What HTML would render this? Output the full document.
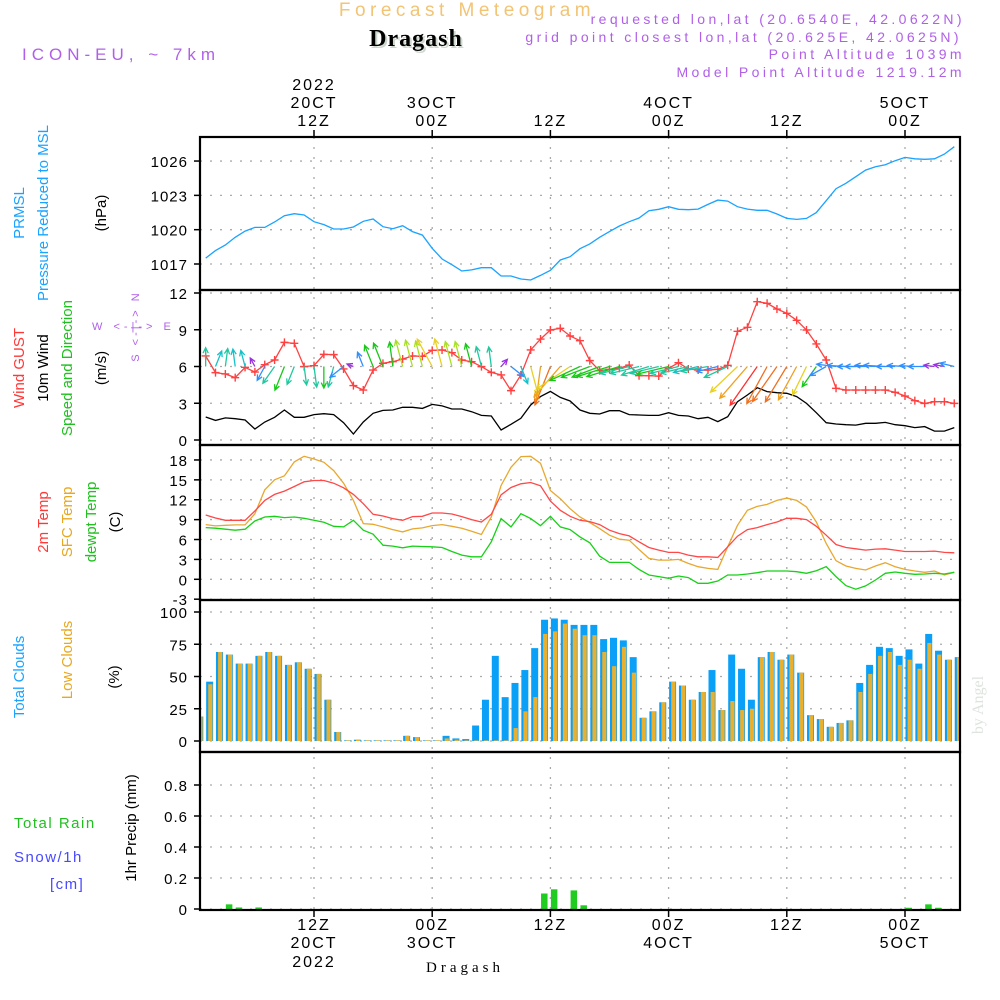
<!DOCTYPE html>
<html><head><meta charset="utf-8"><style>
html,body{margin:0;padding:0;background:#fff;}
svg{display:block;font-family:"Liberation Sans",sans-serif;}
</style></head><body>
<svg id="chart" width="1000" height="1000" viewBox="0 0 1000 1000" xmlns="http://www.w3.org/2000/svg">
<text x="467" y="16" text-anchor="middle" font-size="19" fill="#f2c474" letter-spacing="4.5">Forecast Meteogram</text>
<text x="418" y="48" text-anchor="middle" font-size="24" font-weight="bold" font-family="Liberation Serif,serif" fill="#cfd8cf" letter-spacing="1">Dragash</text>
<text x="416" y="46" text-anchor="middle" font-size="24" font-weight="bold" font-family="Liberation Serif,serif" fill="#000" letter-spacing="1">Dragash</text>
<text x="22" y="60" font-size="17" fill="#b060e8" letter-spacing="5">ICON-EU, ~ 7km</text>
<g font-size="14" fill="#b060e8" text-anchor="end" letter-spacing="3.4">
<text x="965" y="24">requested lon,lat (20.6540E, 42.0622N)</text>
<text x="962" y="42">grid point closest lon,lat (20.625E, 42.0625N)</text>
<text x="965" y="59">Point Altitude 1039m</text>
<text x="965" y="77">Model Point Altitude 1219.12m</text>
</g>
<g id="grid"></g>
<g id="marks"></g>
<g id="frames"></g>
<g id="labels" font-size="15"></g>
<g font-size="15">
<text transform="translate(24,213) rotate(-90)" text-anchor="middle" fill="#1aa3ff">PRMSL</text>
<text transform="translate(48,213) rotate(-90)" text-anchor="middle" fill="#1aa3ff">Pressure Reduced to MSL</text>
<text transform="translate(106,213) rotate(-90)" text-anchor="middle" fill="#000">(hPa)</text>
<text transform="translate(24,368) rotate(-90)" text-anchor="middle" fill="#ff3838">Wind GUST</text>
<text transform="translate(48,368) rotate(-90)" text-anchor="middle" fill="#000">10m Wind</text>
<text transform="translate(72,368) rotate(-90)" text-anchor="middle" fill="#20c020">Speed and Direction</text>
<text transform="translate(106,368) rotate(-90)" text-anchor="middle" fill="#000">(m/s)</text>
<text x="92" y="330" font-size="11" fill="#b060e8" letter-spacing="4">W &lt;-|-&gt; E</text>
<text transform="translate(139,326) rotate(-90)" text-anchor="middle" font-size="11" fill="#b060e8" letter-spacing="3">S &lt;-|-&gt; N</text>
<text transform="translate(48,522) rotate(-90)" text-anchor="middle" fill="#ff3838">2m Temp</text>
<text transform="translate(72,522) rotate(-90)" text-anchor="middle" fill="#e8a820">SFC Temp</text>
<text transform="translate(96,522) rotate(-90)" text-anchor="middle" fill="#20c020">dewpt Temp</text>
<text transform="translate(120,522) rotate(-90)" text-anchor="middle" fill="#000">(C)</text>
<text transform="translate(24,677) rotate(-90)" text-anchor="middle" fill="#1aa3ff">Total Clouds</text>
<text transform="translate(72,660) rotate(-90)" text-anchor="middle" fill="#e8a820">Low Clouds</text>
<text transform="translate(119,677) rotate(-90)" text-anchor="middle" fill="#000">(%)</text>
<text x="14" y="828" fill="#20c020" letter-spacing="1.5">Total  Rain</text>
<text x="14" y="862" fill="#4848ff" letter-spacing="1.5">Snow/1h</text>
<text x="50" y="889" fill="#4848ff" letter-spacing="1.5">[cm]</text>
<text transform="translate(136,828) rotate(-90)" text-anchor="middle" fill="#000">1hr Precip (mm)</text>
</g>
<text x="465" y="972" text-anchor="middle" font-size="15" font-family="Liberation Serif,serif" letter-spacing="4">Dragash</text>
<text transform="translate(983,705) rotate(-90)" text-anchor="middle" font-size="16" font-family="Liberation Serif,serif" fill="#dde3dd">by Angel</text>
</svg>
<script>
const pressure=[1017.52,1018.17,1018.66,1019.33,1019.88,1020.2,1020.2,1020.67,1021.22,1021.4,1021.28,1020.7,1020.44,1020.06,1020.06,1020.23,1020.73,1020.93,1020.26,1020.09,1020.35,1019.83,1019.53,1018.37,1017.44,1016.94,1016.39,1016.48,1016.68,1016.68,1015.95,1015.95,1015.69,1015.6,1016,1016.45,1017.35,1017.64,1018.34,1018.76,
1019.33,1019.83,1020.32,1020.7,1021.02,1021.66,1021.78,1022.01,1021.78,1021.75,1021.8,1022.21,1022.59,1022.5,1022.01,1021.8,1021.69,1021.69,1021.37,1020.99,1020.9,1020.99,1021.49,1022.53,1023.58,1024.05,1024.63,1025.21,1025.5,1025.68,1026.03,1026.32,1026.2,1026.15,1026.2,1026.61,1027.25];
const gust=[6.86,5.5,5.39,5.09,5.93,5.55,6.15,6.53,7.97,7.89,5.99,6.07,6.99,6.97,5.8,4.44,4.08,5.71,6.26,6.39,6.61,6.86,6.83,7.32,7.35,7.13,6.53,6.39,5.99,5.52,5.31,4.03,5.31,7.35,8.24,8.98,9.12,8.49,8.11,6.48,
5.66,5.77,5.85,6.12,5.25,5.25,5.22,5.85,6.31,5.8,5.71,5.71,5.77,6.1,8.87,9.2,11.29,11.16,10.69,10.34,9.77,8.98,7.84,6.53,4.22,4.08,4.08,4.08,4.08,4.08,3.89,3.59,3.21,2.99,3.13,3.13,2.99];
const wind10=[1.88,1.6,1.8,1.74,1.63,0.9,1.47,1.85,2.45,1.85,1.85,2.07,2.15,2.07,1.41,0.49,1.47,2.18,2.42,2.45,2.67,2.67,2.58,2.91,2.78,2.53,2.53,2.31,2.01,1.96,0.82,1.28,1.77,2.86,3.54,3.97,3.48,3.18,2.45,2.18,
2.12,2.39,2.39,2.07,2.04,2.01,2.01,2.23,2.01,1.96,1.74,1.85,1.5,1.9,3.13,3.67,4.27,3.95,3.86,3.81,3.54,2.99,2.23,1.41,1.31,1.25,1.22,1.36,1.36,1.44,1.25,1.17,1.01,1.09,0.73,0.73,1.01];
const windDir=[0,15,5,355,350,340,200,205,195,195,175,175,180,190,220,300,345,345,345,355,350,350,350,340,350,350,350,350,350,355,30,140,165,170,185,195,210,225,235,240,
240,245,245,250,250,245,250,250,250,250,250,255,250,235,215,210,205,200,205,202,200,198,205,230,280,275,270,270,275,275,270,275,275,270,280,285,290];
const temp2m=[9.7,9.25,8.9,8.9,8.9,10.3,11.9,12.8,13.3,14,14.7,14.9,14.9,14.5,13.8,12.8,11.4,9.8,9.55,9.15,8.9,9.45,9.5,10,10,9.85,9.45,9,8.65,9.8,12.75,13.85,14.4,14.6,14.1,11.8,10.4,9.5,8.9,8.7,
8.25,7.4,6.9,6.55,5.65,4.8,4.4,4.05,4.05,3.65,3.4,3.4,3.3,4.9,6.5,7.5,7.8,8.25,8.65,9.2,9.2,9,8,6.65,5.25,4.8,4.6,4.4,4.55,4.6,4.4,4.2,4.2,4.2,4.25,4.05,4.0];
const tempSfc=[8.25,8.05,8.15,8.2,8.2,9.9,13.5,15,15.6,17.7,18.55,18.15,17.65,16.4,14.5,11.9,8.4,8.3,7.9,7.5,7.15,7.6,7.75,8.1,8.25,8,7.7,7.25,6.75,9.4,14.15,16.9,18.5,18.55,17.5,13.4,12.15,10.65,9.4,8.55,
7.65,6.65,6.05,5.9,4.5,3.15,2.9,2.9,3,2.4,1.9,1.65,1.5,4.9,8.15,10.4,11,11.3,11.9,12.25,11.9,10.9,8.65,5.4,2.8,2,1.65,1.4,2,2.5,1.9,1.5,1.25,1.05,1.25,0.65,1.05];
const dewpt=[7.8,7.7,7.55,7.4,7.55,8.8,9.4,9.5,9.3,9.4,9.2,8.9,8.6,8,7.9,8.9,7.4,6.8,5.15,5,4.75,5,4.95,4.9,4.8,4.2,3.65,3.4,3.4,5.65,9.15,7.9,9.9,9.15,8.1,9.5,7.9,7.5,6.4,5.5,
3.5,2.55,2.55,2.55,1.5,0.65,0.4,0.15,0.5,0.25,-0.6,-0.6,-0.25,0.65,0.65,0.8,1,1.25,1.25,1.25,1.15,0.9,1.3,1.9,0.4,-0.95,-1.5,-1,-0.1,0.9,1.1,0.9,0.75,0.8,0.9,0.8,1.05];
const totalClouds=[19,46,69,67,60,60,66,69,66,59,61,56,52,32,7,0.5,1,0.5,0.5,0.5,0.5,4,3,0.5,0.5,4,2,1.5,12,32,66,34,45,55,72,94,95,94,90,90,
90,79,80,78,65,18,23,30,46,43,32,38,55,24,67,56,32,65,69,63,67,53,20,17,11,14,16,45,59,73,72,66,71,60,83,70,63,65];
const lowClouds=[19,44,69,67,60,60,66,69,66,59,61,56,52,32,7,0.5,1,0.5,0.5,0.5,0.5,4,3,0.5,0.5,2,1,0.5,0.5,0.5,0.5,0.5,10,23,34,83,85,91,87,82,
82,69,58,73,53,18,23,30,46,43,32,38,38,24,31,24,25,65,69,63,67,53,20,17,11,14,16,38,52,66,69,59,63,56,76,67,63,65];
const precip=[0,0,0,0.03,0.01,0,0.01,0,0,0,0,0,0,0,0,0,0,0,0,0,0,0,0,0,0,0,0,0,0,0,0,0,0,0,0,0.10,0.127,0,0.12,0.024,
0,0,0,0,0,0,0,0,0,0,0,0,0,0,0,0,0,0,0,0,0,0,0,0,0,0,0,0,0,0,0,0,0.008,0,0.03,0.008,0,0];
const presTicks=[1017,1020,1023,1026];
const windTicks=[0,3,6,9,12];
const tempTicks=[-3,0,3,6,9,12,15,18];
const cloudTicks=[0,25,50,75,100];
const precipTicks=[0,0.2,0.4,0.6,0.8];
const timeTicksH=[12,24,36,48,60,72];
const topLabels=[["2022","20CT","12Z"],["","3OCT","00Z"],["","","12Z"],["","4OCT","00Z"],["","","12Z"],["","5OCT","00Z"]];
const botLabels=[["12Z","20CT","2022"],["00Z","3OCT",""],["12Z","",""],["00Z","4OCT",""],["12Z","",""],["00Z","5OCT",""]];

const NS="http://www.w3.org/2000/svg";
const X0=200,X1=960;
const xH=h=>195.8+9.85*h;
const yP=v=>264-(v-1017)*11.44;
const yW=v=>440-v*12.25;
const yT=v=>579.3-v*6.63;
const yC=v=>741-v*1.29;
const yR=v=>909-v*155;
const panels=[[137,290],[290,445],[445,600],[600,752],[752,910]];
function el(tag,attrs,parent){const e=document.createElementNS(NS,tag);for(const k in attrs)e.setAttribute(k,attrs[k]);parent.appendChild(e);return e;}
const grid=document.getElementById('grid'),marks=document.getElementById('marks'),frames=document.getElementById('frames'),labels=document.getElementById('labels');
const defs=el('defs',{},document.getElementById('chart'));
const cp=el('clipPath',{id:'clipAll'},defs);el('rect',{x:X0,y:137,width:X1-X0,height:773},cp);
marks.setAttribute('clip-path','url(#clipAll)');
function yAxis(ticks,fy,fmt){
 ticks.forEach(t=>{const y=fy(t);
  const g=el('line',{x1:X0,x2:X1,y1:y,y2:y,stroke:'#aaa','stroke-width':1.3,'stroke-dasharray':'2,8'},grid);
  
  
  const tk=el('line',{x1:X0-6,x2:X0,y1:y,y2:y,stroke:'#000','stroke-width':1.5},frames);
  
  
  const tx=el('text',{x:X0-12,y:y+6,'text-anchor':'end','letter-spacing':1},labels);tx.textContent=fmt(t);
  
  
 });
}
yAxis(presTicks,yP,t=>t);
yAxis(windTicks,yW,t=>t);
yAxis(tempTicks,yT,t=>t);
yAxis(cloudTicks,yC,t=>t);
yAxis(precipTicks,yR,t=>t===0?'0':t.toFixed(1));
timeTicksH.forEach((h,i)=>{const x=xH(h);
 const g=el('line',{x1:x,x2:x,y1:137,y2:910,stroke:'#aaa','stroke-width':1.3,'stroke-dasharray':'2,8'},grid);
 
 
 const t1=el('line',{x1:x,x2:x,y1:130,y2:137,stroke:'#000','stroke-width':1.5},frames);
 
 
 const t2=el('line',{x1:x,x2:x,y1:910,y2:917,stroke:'#000','stroke-width':1.5},frames);
 
 
 [90,108,126].forEach((yy,j)=>{if(topLabels[i][j]){const t=el('text',{x:x,y:yy,'text-anchor':'middle','font-size':16,'letter-spacing':2},labels);t.textContent=topLabels[i][j];
  
  }});
 [930,948,967].forEach((yy,j)=>{if(botLabels[i][j]){const t=el('text',{x:x,y:yy,'text-anchor':'middle','font-size':16,'letter-spacing':2},labels);t.textContent=botLabels[i][j];
  
  }});
});
panels.forEach(p=>{const r=el('rect',{x:X0,y:p[0],width:X1-X0,height:p[1]-p[0],fill:'none',stroke:'#000','stroke-width':2.2},frames);
 
 });
function line(arr,fy,color,name,w){
 const pts=arr.map((v,i)=>xH(i+1).toFixed(1)+','+fy(v).toFixed(1)).join(' ');
 const p=el('polyline',{points:pts,fill:'none',stroke:color,'stroke-width':w||1.3},marks);
 
 
}
line(pressure,yP,'#1aa3ff','pressure-line');
line(wind10,yW,'#000','wind-speed-line');
line(gust,yW,'#ff4040','wind-gust-line');
gust.forEach((v,i)=>{const x=xH(i+1),y=yW(v);
 const m=el('path',{d:`M${x-4},${y}h8M${x},${y-4}v8`,stroke:'#ff4040','stroke-width':1.4},marks);
 
 });
function wcol(s){if(s<1)return '#9a30e0';if(s<1.55)return '#2f8fff';if(s<1.8)return '#18c0c8';if(s<2.1)return '#20c8a0';if(s<2.5)return '#18c818';if(s<2.75)return '#a8e020';if(s<3.2)return '#e8d020';if(s<3.75)return '#f0a020';if(s<4.1)return '#f07020';return '#ff3030';}
wind10.forEach((s,i)=>{const x=xH(i+1),y=yW(6),d=windDir[i]*Math.PI/180;
 const tx=x+s*15*Math.sin(d),ty=y-s*10*Math.cos(d);
 const ang=Math.atan2(tx-x,-(ty-y));
 const a1=ang+Math.PI-0.45,a2=ang+Math.PI+0.45;
 const c=wcol(s);
 const p=el('path',{d:`M${x},${y}L${tx},${ty}M${tx+6*Math.sin(a1)},${ty-6*Math.cos(a1)}L${tx},${ty}L${tx+6*Math.sin(a2)},${ty-6*Math.cos(a2)}`,stroke:c,'stroke-width':1.3,fill:'none'},marks);
 
 });
line(tempSfc,yT,'#e8a830','sfc-temp-line');
line(temp2m,yT,'#ff4848','temp-2m-line');
line(dewpt,yT,'#18d018','dewpoint-line');
totalClouds.forEach((v,i)=>{const x=xH(i);
 const b=el('rect',{x:x+0.5,y:yC(v),width:7,height:741-yC(v),fill:'#0aa0f8'},marks);
 
 
 const l=lowClouds[i];
 const o=el('rect',{x:x+2.6,y:yC(l),width:4.2,height:741-yC(l),fill:'#e8b030'},marks);
 
 });
precip.forEach((v,i)=>{if(v<=0)return;const x=xH(i);
 const b=el('rect',{x:x+0.5,y:yR(v),width:6.5,height:909-yR(v),fill:'#20cc20'},marks);
 
 });
</script>
</body></html>
